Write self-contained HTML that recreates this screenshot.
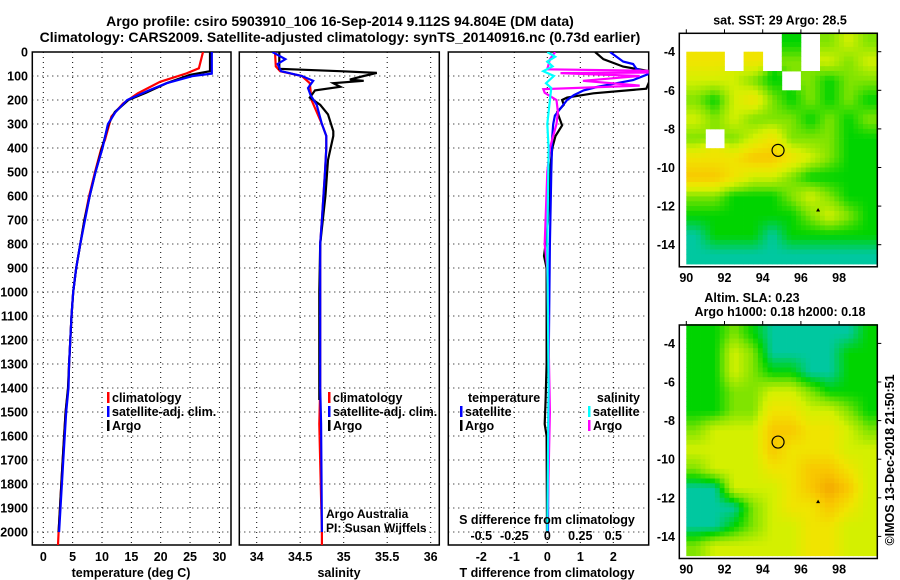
<!DOCTYPE html>
<html><head><meta charset="utf-8"><style>
body{margin:0;background:#fff;}
svg{display:block;font-family:"Liberation Sans",sans-serif;}
.t{font-weight:bold;font-size:14px;}
.k{font-weight:bold;font-size:12.5px;}
</style></head><body>
<svg id="s" width="900" height="580" viewBox="0 0 900 580">
<text class="t" x="340" y="26" text-anchor="middle">Argo profile: csiro 5903910_106 16-Sep-2014 9.112S 94.804E (DM data)</text>
<text class="t" x="340" y="42" text-anchor="middle">Climatology: CARS2009. Satellite-adjusted climatology: synTS_20140916.nc (0.73d earlier)</text>
</svg>
<script>
// ---- data ----
const depthTicks=[0,100,200,300,400,500,600,700,800,900,1000,1100,1200,1300,1400,1500,1600,1700,1800,1900,2000];
const tempTicks=[0,5,10,15,20,25,30];
const salTicks=[34,34.5,35,35.5,36];
const salTickLabels=["34","34.5","35","35.5","36"];
const diffTTicks=[-2,-1,0,1,2];
const diffSTicks=[-0.5,-0.25,0,0.25,0.5];
const diffSTickLabels=["-0.5","-0.25","0","0.25","0.5"];
// temperature profiles: [depth, value]
const tempClim=[[0,27.2],[68,26.5],[89,24.4],[124,19.9],[172,16.1],[214,13.6],[269,11.6],[367,10.5],[400,9.9],[500,8.8],[600,7.8],[700,7.0],[800,6.3],[900,5.6],[1000,5.1],[1100,4.8],[1200,4.6],[1300,4.4],[1400,4.25],[1500,3.8],[1700,3.3],[2000,2.6],[2054,2.5]];
const tempSat=[[0,28.7],[90,28.7],[100,25.5],[130,21],[160,18],[200,14.3],[250,12.3],[300,11],[400,10.1],[500,8.9],[600,7.9],[700,7.1],[800,6.3],[900,5.6],[1000,5.1],[1100,4.8],[1200,4.6],[1300,4.4],[1400,4.3],[1500,3.9],[1700,3.4],[2000,2.7]];
const tempArgo=[[0,28.4],[80,28.4],[95,25],[130,21],[170,17.5],[200,14.5],[250,12.2],[300,11.1],[400,10.0],[500,8.9],[600,7.9],[700,7.0],[800,6.3],[900,5.6],[1000,5.1],[1100,4.8],[1200,4.6],[1300,4.4],[1400,4.2],[1500,3.8],[1700,3.3],[2000,2.6]];
const salClim=[[0,34.21],[60,34.22],[80,34.27],[100,34.52],[130,34.61],[200,34.63],[250,34.69],[300,34.75],[350,34.8],[400,34.8],[500,34.785],[700,34.75],[800,34.73],[1400,34.73],[1550,34.72],[2000,34.75],[2054,34.75]];
const salSat=[[0,34.18],[30,34.33],[50,34.24],[80,34.28],[100,34.52],[120,34.65],[150,34.59],[180,34.62],[220,34.69],[300,34.75],[350,34.8],[400,34.8],[500,34.785],[700,34.75],[800,34.73],[1400,34.73],[1550,34.74],[2000,34.75]];
const salArgo=[[0,34.26],[70,34.26],[80,34.96],[87,35.38],[100,35.23],[115,35.07],[120,35.23],[130,34.88],[145,34.96],[160,34.67],[190,34.61],[220,34.73],[260,34.82],[330,34.88],[350,34.88],[450,34.82],[600,34.79],[800,34.73],[1000,34.72],[1450,34.72]];
// differences
const dTSat=[[0,1.9],[40,2.3],[50,2.6],[70,2.7],[90,3.1],[117,2.6],[146,1.5],[160,1.1],[180,0.8],[200,0.6],[265,0.23],[300,0.18],[350,0.15],[500,0.12],[800,0.08],[1200,0.05],[1600,0.03],[2000,0.02]];
const dTArgo=[[0,1.45],[30,1.7],[61,2.3],[80,3.1],[120,3.1],[153,3.0],[172,1.4],[190,0.6],[200,0.45],[220,0.5],[250,0.3],[306,0.45],[350,0.25],[400,0.15],[500,0.08],[700,0.02],[800,-0.05],[850,-0.1],[900,-0.02],[1300,-0.02],[1450,-0.05],[1550,-0.08],[1600,-0.02],[2000,-0.01]];
const dSArgo=[[0,0.06],[30,0.02],[72,0.0],[80,0.95],[85,0.95],[88,0.1],[100,0.7],[120,0.27],[140,0.7],[155,-0.03],[170,-0.02],[200,0.07],[250,0.08],[300,0.07],[400,0.02],[500,0.0],[800,-0.02],[900,0.0],[1500,0.02],[2000,0.0]];
const dSSat=[[0,0.0],[20,0.06],[40,0.0],[60,0.04],[80,-0.03],[100,0.05],[130,-0.01],[150,0.03],[200,0.02],[300,0.0],[400,0.01],[800,0.0],[1400,0.01],[2000,0.0]];
// map fields (1-degree cells, rows lat -3..-15, cols lon 90..100), palette index, ' ' = no data
const sstRows=["     1 232","44 4 2 323","33321 2122","2134212121","3232221212","2 23422211","4445543211","5543321111","2211123211","1111112321","0111011111","0000000000"];
const slaRows=["1121000001","1132000011","1132110011","1122332111","1122443321","2333554432","3333544433","2333445543","0033345653","0002344543","0012334433","2333334433"];
const mapLonTicks=[90,92,94,96,98];
const mapLatTicks=[-4,-6,-8,-10,-12,-14];
const argoLon=94.804, argoLat=-9.112;

const S=document.getElementById('s');
const NS='http://www.w3.org/2000/svg';
function mk(tag,attrs,parent){const e=document.createElementNS(NS,tag);for(const k in attrs)e.setAttribute(k,attrs[k]);(parent||S).appendChild(e);return e;}
const Y0=52,YS=0.24,YB=545;
const yD=d=>Y0+d*YS;
const x1=v=>43.3+5.87*v;
const x2=v=>256.7+87*(v-34);
const x3=v=>547.3+33*v;
const x3s=v=>547.3+132*v;

function panel(name,L,R,xf,vt){
  const g=mk('g',{});
  
  
  const cid='c'+name;
  const cp=mk('clipPath',{id:cid},g);mk('rect',{x:L,y:Y0,width:R-L,height:YB-Y0},cp);
  depthTicks.forEach(d=>{const l=mk('line',{x1:L,x2:R,y1:yD(d),y2:yD(d),stroke:'#000','stroke-width':1,'stroke-dasharray':'1,4'},g);
    });
  vt.forEach(v=>{const l=mk('line',{x1:xf(v),x2:xf(v),y1:Y0,y2:YB,stroke:'#000','stroke-width':1,'stroke-dasharray':'1,4'},g);
    });
  const f=mk('rect',{x:L,y:Y0,width:R-L,height:YB-Y0,fill:'none',stroke:'#000','stroke-width':1.5},g);
  
  return {g,cid};
}
function line(p,data,xf,color,nm){
  const pts=data.map(a=>xf(a[1]).toFixed(1)+','+yD(a[0]).toFixed(1)).join(' ');
  const e=mk('polyline',{points:pts,fill:'none',stroke:color,'stroke-width':2.2,'clip-path':'url(#'+p.cid+')'},p.g);
  
  
}
function txt(s,x,y,cls,anchor,nm,parent){const e=mk('text',{x:x,y:y,class:cls||'k','text-anchor':anchor||'start'},parent);e.textContent=s;
  
  return e;}

depthTicks.forEach(d=>txt(String(d),28,yD(d)+4.5,'k','end','depth-tick-label'));

const P1=panel('temperature-panel',32.3,231,x1,tempTicks);
line(P1,tempClim,x1,'#f00','temp-climatology-line');
line(P1,tempArgo,x1,'#000','temp-argo-line');
line(P1,tempSat,x1,'#00f','temp-satellite-line');
tempTicks.forEach((v,i)=>txt(String(v),x1(v),561,'k','middle','temp-tick-label'));
txt('temperature (deg C)',131,577,'k','middle','temp-axis-title');
const P2=panel('salinity-panel',239.3,439.3,x2,salTicks);
line(P2,salClim,x2,'#f00','sal-climatology-line');
line(P2,salArgo,x2,'#000','sal-argo-line');
line(P2,salSat,x2,'#00f','sal-satellite-line');
salTicks.forEach((v,i)=>txt(salTickLabels[i],x2(v),561,'k','middle','sal-tick-label'));
txt('salinity',339,577,'k','middle','sal-axis-title');
txt('Argo Australia',326,518,'','start','credit-argo-australia').setAttribute('style','font-size:12px');
txt('PI: Susan Wijffels',326,532,'','start','credit-pi').setAttribute('style','font-size:12px');
const P3=panel('difference-panel',448.3,648.7,x3,diffTTicks);
line(P3,dTArgo,x3,'#000','dT-argo-line');
line(P3,dTSat,x3,'#00f','dT-satellite-line');
line(P3,dSArgo,x3s,'#f0f','dS-argo-line');
line(P3,dSSat,x3s,'#0ff','dS-satellite-line');
diffTTicks.forEach(v=>txt(String(v),x3(v),561,'k','middle','dT-tick-label'));
diffSTicks.forEach((v,i)=>txt(diffSTickLabels[i],x3s(v),540,'k','middle','dS-tick-label'));
txt('S difference from climatology',547,524,'k','middle','dS-axis-title');
txt('T difference from climatology',547,577,'k','middle','dT-axis-title');

function leg(x,y,c,s,nm){const b=mk('rect',{x:x,y:y-10,width:2.5,height:11,fill:c});
  
  txt(s,x+5,y,'k','start',nm);}
leg(107,402,'#f00','climatology','legend-climatology');
leg(107,416,'#00f','satellite-adj. clim.','legend-satellite');
leg(107,430,'#000','Argo','legend-argo');
leg(328,402,'#f00','climatology','legend2-climatology');
leg(328,416,'#00f','satellite-adj. clim.','legend2-satellite');
leg(328,430,'#000','Argo','legend2-argo');
txt('temperature',468,402,'k','start','legend3-temperature-heading');
leg(460,416,'#00f','satellite','legend3-t-satellite');
leg(460,430,'#000','Argo','legend3-t-argo');
txt('salinity',640,402,'k','end','legend3-salinity-heading');
leg(588,416,'#0ff','satellite','legend3-s-satellite');
leg(588,430,'#f0f','Argo','legend3-s-argo');

const pal=['#00c8a0','#00d400','#80e400','#d4f000','#f0e400','#f8c800','#f4a800'];
const hex=h=>[1,3,5].map(i=>parseInt(h.substr(i,2),16));
function drawMap(name,rows,top,title1,title2){
  const g=mk('g',{});
  
  
  const L=679.3,R=877.3,B=top+233.5;
  const lx=lon=>686.3+19.1*(lon-90);
  const ly=lat=>(top+18.4)+19.3*(-4-lat);
  const val=(r,c)=>{r=Math.max(0,Math.min(11,r));c=Math.max(0,Math.min(9,c));const ch=rows[r][c];return ch===' '?null:+ch;};
  const sub=4;
  for(let r=0;r<12;r++)for(let c=0;c<10;c++)for(let i=0;i<sub;i++)for(let j=0;j<sub;j++){
    const fr=r+(i+0.5)/sub-0.5, fc=c+(j+0.5)/sub-0.5;
    const r0=Math.floor(fr),c0=Math.floor(fc),tr=fr-r0,tc=fc-c0;
    const vs=[[val(r0,c0),(1-tr)*(1-tc)],[val(r0,c0+1),(1-tr)*tc],[val(r0+1,c0),tr*(1-tc)],[val(r0+1,c0+1),tr*tc]];
    if(val(r,c)===null)continue;
    let s=0,w=0;vs.forEach(a=>{if(a[0]!==null){s+=a[0]*a[1];w+=a[1];}});
    const v=Math.max(0,Math.min(6,s/w));const k=Math.floor(Math.min(v,5.999)),f=v-k;
    const a=hex(pal[k]),b=hex(pal[k+1]);const col='rgb('+a.map((x,q)=>Math.round(x+(b[q]-x)*f)).join(',')+')';
    const lon=90+c+j/sub, lat=-3-r-i/sub;
    const e=mk('rect',{x:lx(lon).toFixed(1),y:ly(lat).toFixed(1),width:19.1/sub+0.4,height:19.3/sub+0.4,fill:col},g);
    
    
  }
  const f=mk('rect',{x:L,y:top,width:R-L,height:B-top,fill:'none',stroke:'#000','stroke-width':1.5},g);
  
  mapLonTicks.forEach(v=>{txt(String(v),lx(v),B+15,'k','middle','map-lon-label',g);
    const t=mk('line',{x1:lx(v),x2:lx(v),y1:top,y2:top-4,stroke:'#000'},g);});
  mapLatTicks.forEach(v=>{txt(String(v),675,ly(v)+4.5,'k','end','map-lat-label',g);
    const t=mk('line',{x1:R,x2:R+4,y1:ly(v),y2:ly(v),stroke:'#000'},g);});
  const c=mk('circle',{cx:lx(argoLon),cy:ly(argoLat),r:6,fill:'none',stroke:'#000','stroke-width':1.2},g);
  
  const tr=mk('polygon',{points:`${lx(96.9)-2},${ly(-12.2)+1.5} ${lx(96.9)+2},${ly(-12.2)+1.5} ${lx(96.9)},${ly(-12.2)-2}`,fill:'#000'},g);
  
  if(title2){txt(title1,752,top-23,'k','middle','map-title',g);txt(title2,780,top-9,'k','middle','map-subtitle',g);}
  else txt(title1,780,top-9,'k','middle','map-title',g);
}
drawMap('sst-map',sstRows,33.3,'sat. SST: 29 Argo: 28.5');
drawMap('sla-map',slaRows,325,'Altim. SLA: 0.23','Argo h1000: 0.18 h2000: 0.18');
const ts=txt('©IMOS 13-Dec-2018 21:50:51',0,0,'','middle','timestamp');
ts.setAttribute('style','font-size:12.5px');
ts.setAttribute('transform','translate(894,460) rotate(-90)');
</script>
</body></html>
